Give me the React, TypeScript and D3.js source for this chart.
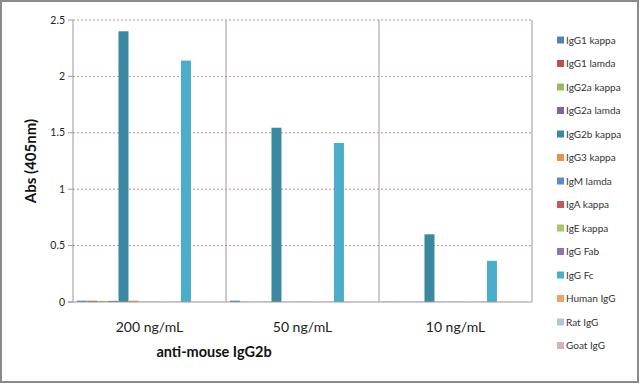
import * as d3 from 'd3'

const categories = ['200 ng/mL', '50 ng/mL', '10 ng/mL']
const seriesNames = [
  'IgG1 kappa', 'IgG1 lamda', 'IgG2a kappa', 'IgG2a lamda', 'IgG2b kappa', 'IgG3 kappa', 'IgM lamda',
  'IgA kappa', 'IgE kappa', 'IgG Fab', 'IgG Fc', 'Human IgG', 'Rat IgG', 'Goat IgG',
]
const seriesColors = [
  '#4F81BD', '#C0504D', '#9BBB59', '#8064A2', '#3A88A2', '#E8914A', '#5A8DC4',
  '#C25A57', '#A9C66E', '#8E75AE', '#4AADC9', '#F4A064', '#B3C4DE', '#DDB0B0',
]
// values[series][category]
const values = [
  [0.012, 0.012, 0.003],
  [0.011, 0.002, 0.002],
  [0.010, 0.002, 0.002],
  [0.010, 0.002, 0.002],
  [2.40, 1.545, 0.60],
  [0.012, 0.002, 0.002],
  [0.002, 0.002, 0.002],
  [0.002, 0.002, 0.002],
  [0.002, 0.002, 0.002],
  [0.002, 0.002, 0.002],
  [2.14, 1.41, 0.365],
  [0.002, 0.002, 0.002],
  [0.002, 0.002, 0.002],
  [0.002, 0.002, 0.002],
]
const yTicks = [0, 0.5, 1, 1.5, 2, 2.5]

const W = 640
const H = 385
const PAD = { left: 73, right: 108, top: 20, bottom: 83 }
const FONT = 'Lato, "Open Sans", sans-serif'

export default function App() {
  const innerW = W - PAD.left - PAD.right
  const innerH = H - PAD.top - PAD.bottom

  const x0 = d3.scaleBand().domain(categories).range([0, innerW]).paddingInner(0).paddingOuter(0)
  const x1 = d3.scaleBand().domain(seriesNames).range([0, x0.bandwidth()]).paddingInner(0).paddingOuter(0.35)
  const y = d3.scaleLinear().domain([0, 2.5]).range([innerH, 0])

  const barW = 10

  return (
    <svg width={W} height={H} style={{ position: 'absolute', left: 0, top: 0, background: '#fff' }}>
      <rect x={1} y={1} width={W - 3} height={H - 4} fill="#fff" stroke="#8a8a8a" strokeWidth={2} />

      <g transform={`translate(${PAD.left},${PAD.top})`}>
        {/* Gridlines */}
        {yTicks.filter(t => t > 0).map(t => (
          <line key={t} x1={0} x2={innerW} y1={y(t)} y2={y(t)}
            stroke="#a05050" strokeWidth={0.8} strokeDasharray="2,2" opacity={0.8} />
        ))}

        {/* Category separators */}
        {categories.slice(1).map(c => (
          <line key={c} x1={x0(c)} x2={x0(c)} y1={0} y2={innerH} stroke="#9a9a9a" strokeWidth={1} />
        ))}
        <line x1={innerW} x2={innerW} y1={0} y2={innerH} stroke="#9a9a9a" strokeWidth={1} />

        {/* Bars */}
        {seriesNames.map((s, si) => categories.map((c, ci) => {
          const v = values[si][ci]
          const bx = (x0(c) ?? 0) + (x1(s) ?? 0) + (x1.bandwidth() - barW) / 2
          return (
            <rect key={s + c} x={bx} y={y(v)} width={barW} height={innerH - y(v)} fill={seriesColors[si]} />
          )
        }))}

        {/* Axes */}
        <line x1={0} x2={0} y1={0} y2={innerH} stroke="#9a9a9a" />
        <line x1={-5} x2={innerW} y1={innerH} y2={innerH} stroke="#9a9a9a" />
        {yTicks.map(t => (
          <g key={t}>
            <line x1={-5} x2={0} y1={y(t)} y2={y(t)} stroke="#9a9a9a" />
            <text x={-8} y={y(t)} dy="0.35em" textAnchor="end" fontSize={10.5} fontFamily={FONT} fill="#222">{t}</text>
          </g>
        ))}
        {categories.map(c => (
          <text key={c} x={(x0(c) ?? 0) + x0.bandwidth() / 2} y={innerH + 30} textAnchor="middle"
            fontSize={14} fontFamily={FONT} fill="#222">{c}</text>
        ))}
      </g>

      <text x={214} y={357} textAnchor="middle" fontSize={14.5} fontWeight="bold" fontFamily={FONT} fill="#111">anti-mouse IgG2b</text>
      <text transform={`translate(36,${PAD.top + innerH / 2}) rotate(-90)`} textAnchor="middle"
        fontSize={15} fontWeight="bold" fontFamily={FONT} fill="#111">Abs (405nm)</text>

      {/* Legend */}
      {seriesNames.map((s, i) => {
        const ly = 40 + i * 23.5
        return (
          <g key={s}>
            <rect x={557} y={ly - 3.5} width={7} height={7} fill={seriesColors[i]} />
            <text x={566} y={ly} dy="0.35em" fontSize={10} fontFamily={FONT} fill="#333">{s}</text>
          </g>
        )
      })}
    </svg>
  )
}
